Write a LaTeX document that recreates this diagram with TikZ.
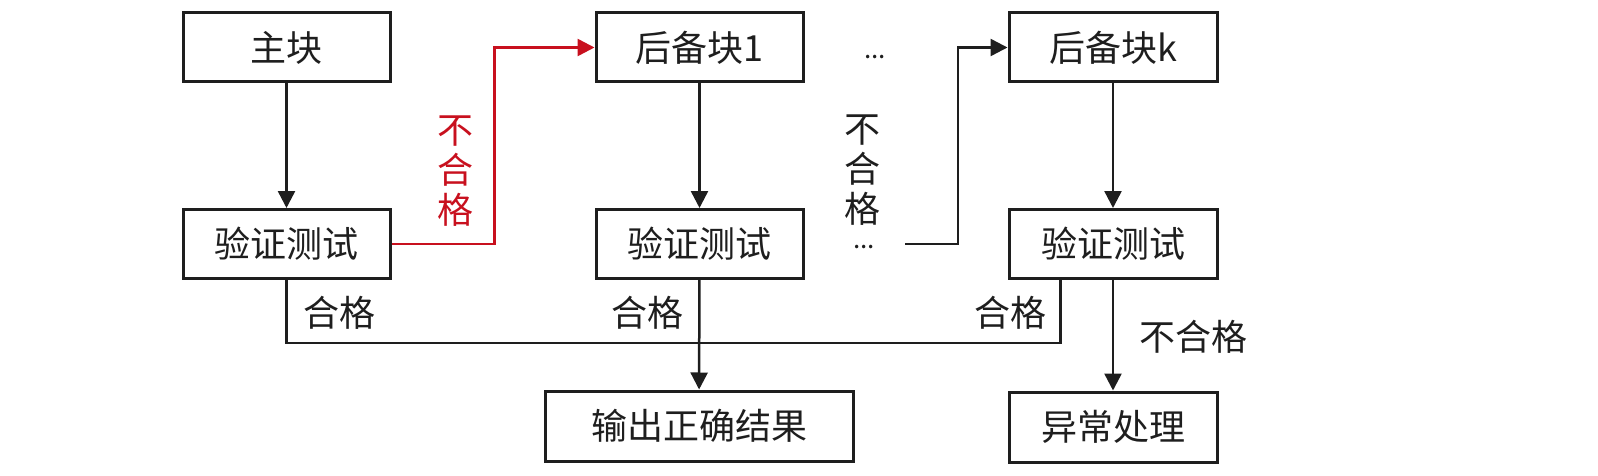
\documentclass[tikz,border=0pt]{standalone}
\usepackage{fontspec}
\setmainfont{Noto Sans CJK SC}
\usetikzlibrary{arrows.meta}
\definecolor{myred}{RGB}{200,16,30}
\definecolor{ink}{RGB}{30,30,30}
\begin{document}
\begin{tikzpicture}[x=1pt,y=-1pt,
 box/.style={draw=ink,line width=3pt,minimum width=207pt,minimum height=69pt,inner sep=0pt,text=ink,font=\fontsize{36}{40}\selectfont},
 conn/.style={draw=ink,line width=2.5pt,-{Triangle[length=17pt,width=17pt]}},
 plain/.style={draw=ink,line width=2.5pt},
 lbl/.style={font=\fontsize{36}{40}\selectfont,inner sep=0pt,text=ink},
 vlbl/.style={font=\fontsize{36}{40}\selectfont,inner sep=0pt,align=center,text=ink},
]
\useasboundingbox (0,0) rectangle (1598,476);
\node[box] (m) at (286.5,47.5) {主块};
\node[box] (v1) at (286.5,244) {验证测试};
\node[box] (b1) at (699.5,47.5) {后备块1};
\node[box] (v2) at (699.5,244) {验证测试};
\node[box,minimum width=208pt] (bk) at (1113,47.5) {后备块k};
\node[box,minimum width=208pt] (vk) at (1113,244) {验证测试};
\node[box,minimum width=308pt,minimum height=70pt] (out) at (699,426) {输出正确结果};
\node[box,minimum width=208pt,minimum height=70pt] (exc) at (1113,427) {异常处理};

\draw[conn] (m) -- (v1);
\draw[conn] (b1) -- (v2);
\draw[conn] (bk) -- (vk);
\draw[conn,draw=myred,myred] (v1.east) -- ++(103,0) |- (b1.west);
\coordinate (d) at (905,244);
\draw[conn] (d) -- ++(53,0) |- (bk.west);
\draw[plain] (v1.south) -- ++(0,63) -| ([xshift=53pt]vk.south west);
\draw[conn] (v2) -- (out);
\draw[conn] (vk) -- (exc);

\node[vlbl,text=myred] (r) at (455,171) {不\\合\\格};
\node[vlbl] (n) at (862,170) {不\\合\\格};
\node[lbl,anchor=base,font=\fontsize{26}{30}\selectfont] (e1) at (875,59) {...};
\node[lbl,anchor=base,font=\fontsize{26}{30}\selectfont] (e2) at (864,248) {...};
\node[lbl] (h1) at (339,313) {合格};
\node[lbl] (h2) at (647,313) {合格};
\node[lbl] (h3) at (1010,313) {合格};
\node[lbl] (nk) at (1193,337) {不合格};
\end{tikzpicture}
\end{document}
